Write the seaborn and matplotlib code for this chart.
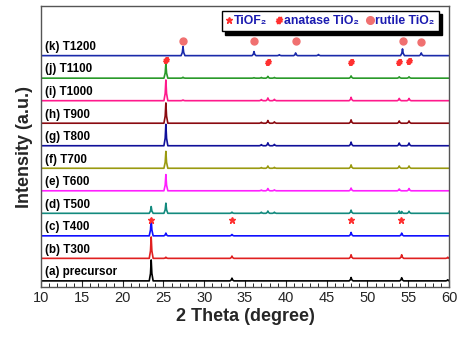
import numpy as np
import pandas as pd
import matplotlib
matplotlib.use("Agg")
import matplotlib.pyplot as plt
from matplotlib.lines import Line2D
import seaborn as sns

# ---------------- data ----------------
samples = ["(a) precursor", "(b) T300", "(c) T400", "(d) T500", "(e) T600", "(f) T700",
           "(g) T800", "(h) T900", "(i) T1000", "(j) T1100", "(k) T1200"]
colors = ["#000000", "#e02020", "#1010ff", "#138a7e", "#ff20ff", "#9a9a10",
          "#10109a", "#8a0a10", "#ff1a8c", "#2a9a2a", "#1a2aaa"]

# peak positions (2theta) and heights (a.u.) per sample
peaks_a = [(23.5, 0.93), (33.4, 0.12), (48.0, 0.15), (54.2, 0.14), (59.85, 0.05)]
peaks_b = [(23.5, 0.95), (25.3, 0.05), (33.4, 0.10), (48.0, 0.16), (54.2, 0.16), (59.85, 0.05)]
peaks_c = [(23.5, 0.75), (25.3, 0.12), (33.4, 0.06), (48.0, 0.15), (54.2, 0.12)]
peaks_d = [(23.5, 0.30), (25.3, 0.45), (33.4, 0.05), (37.0, 0.05), (37.8, 0.10), (38.6, 0.05),
           (48.0, 0.14), (53.9, 0.10), (54.2, 0.08), (55.1, 0.09)]
peaks_e = [(25.3, 0.72), (37.0, 0.03), (37.8, 0.10), (38.6, 0.04), (48.0, 0.12), (53.9, 0.08), (55.1, 0.10)]
peaks_f = [(25.3, 0.75), (37.0, 0.03), (37.8, 0.10), (38.6, 0.04), (48.0, 0.15), (53.9, 0.10), (55.1, 0.10)]
peaks_g = [(25.3, 0.95), (37.0, 0.05), (37.8, 0.13), (38.6, 0.06), (48.0, 0.16), (53.9, 0.12), (55.1, 0.12)]
peaks_h = [(25.3, 0.90), (37.0, 0.04), (37.8, 0.12), (38.6, 0.06), (48.0, 0.15), (53.9, 0.10), (55.1, 0.10)]
peaks_i = [(25.3, 0.92), (27.4, 0.03), (37.0, 0.05), (37.8, 0.12), (38.6, 0.06), (48.0, 0.15),
           (53.9, 0.10), (55.1, 0.10)]
peaks_j = [(25.3, 0.65), (27.4, 0.04), (36.1, 0.02), (37.0, 0.03), (37.8, 0.08), (38.6, 0.03),
           (48.0, 0.10), (53.9, 0.06), (55.1, 0.06)]
peaks_k = [(27.4, 0.40), (36.1, 0.18), (39.2, 0.04), (41.2, 0.12), (44.0, 0.05), (54.3, 0.30), (56.6, 0.12)]
all_peaks = [peaks_a, peaks_b, peaks_c, peaks_d, peaks_e, peaks_f,
             peaks_g, peaks_h, peaks_i, peaks_j, peaks_k]

# phase markers
tiof2_pos = [23.5, 33.4, 48.0, 54.1]
tiof2_h = [0.72, 0.72, 0.72, 0.72]
anatase_pos = [25.3, 37.8, 48.0, 53.9, 55.1]
anatase_h = [0.82, 0.72, 0.72, 0.72, 0.75]
rutile_pos = [27.4, 36.1, 41.2, 54.3, 56.6]
rutile_h = [0.65, 0.65, 0.65, 0.65, 0.62]

xticks = [10, 15, 20, 25, 30, 35, 40, 45, 50, 55, 60]

# ---------------- build profiles ----------------
HW = 0.24  # peak half-width (style)
rows = []
for i, (name, pk) in enumerate(zip(samples, all_peaks)):
    pts = [(10.0, 0.0), (60.0, 0.0)]
    for p, h in pk:
        pts += [(p - HW, 0.0), (p - HW * 0.35, h * 0.35), (p, h), (p + HW * 0.35, h * 0.35), (p + HW, 0.0)]
    pts.sort()
    for x, y in pts:
        rows.append({"theta": x, "intensity": y + i, "sample": name})
df = pd.DataFrame(rows)

# ---------------- plot ----------------
sns.set_style("white")
plt.rcParams["font.family"] = ["Liberation Sans", "DejaVu Sans"]

fig = plt.figure(figsize=(4.61, 3.38), dpi=100)
ax = fig.add_axes([0.089, 0.151, 0.885, 0.831])

sns.lineplot(data=df, x="theta", y="intensity", hue="sample", palette=dict(zip(samples, colors)),
             hue_order=samples, estimator=None, sort=False, legend=False, linewidth=1.2, ax=ax)

for i, name in enumerate(samples):
    ax.text(10.5, i + 0.12, name, fontsize=8.4, fontweight="bold", color="black",
            ha="left", va="bottom")

mk_col = "#ff3030"
ax.plot(tiof2_pos, [2 + h for h in tiof2_h], ls="none", marker="*", color=mk_col, ms=4.5)
ax.plot(anatase_pos, [9 + h for h in anatase_h], ls="none", marker=r"$\#$", color=mk_col, ms=4)
ax.plot(rutile_pos, [10 + h for h in rutile_h], ls="none", marker="o", mfc="#f07070",
        mec="#f07070", ms=5)

ax.set_xlim(10, 60)
ax.set_ylim(-0.27, 12.2)
ax.set_xticks(xticks)
ax.set_xticks(np.arange(10, 61, 1), minor=True)
ax.set_yticks([])
ax.tick_params(axis="x", which="major", direction="in", length=5, width=0.8, labelsize=10.5,
               bottom=True, top=False, pad=3)
ax.tick_params(axis="x", which="minor", direction="in", length=3, width=0.7, bottom=True, top=False)
for s in ax.spines.values():
    s.set_color("#555555")
    s.set_linewidth(1.0)

ax.set_xlabel("2 Theta (degree)", fontsize=13, fontweight="bold", labelpad=2)
ax.set_ylabel("Intensity (a.u.)", fontsize=13, fontweight="bold", labelpad=6)

handles = [
    Line2D([], [], ls="none", marker="*", color=mk_col, ms=5),
    Line2D([], [], ls="none", marker=r"$\#$", color=mk_col, ms=4.5),
    Line2D([], [], ls="none", marker="o", mfc="#f07070", mec="#f07070", ms=5.5),
]
labels = ["TiOF₂", "anatase TiO₂", "rutile TiO₂"]
leg = ax.legend(handles, labels, ncol=3, loc="upper right", bbox_to_anchor=(0.99, 1.005),
                frameon=True, fancybox=False, shadow={"color": "black", "alpha": 1, "ox": 2.5, "oy": -2.5},
                handlelength=0.5, handletextpad=0.15, columnspacing=0.7, borderpad=0.35,
                prop={"size": 8.8, "weight": "bold"})
leg.get_frame().set_edgecolor("black")
leg.get_frame().set_linewidth(1.0)
for t in leg.get_texts():
    t.set_color("#1a1ab0")

fig.savefig("out.png", dpi=100)
